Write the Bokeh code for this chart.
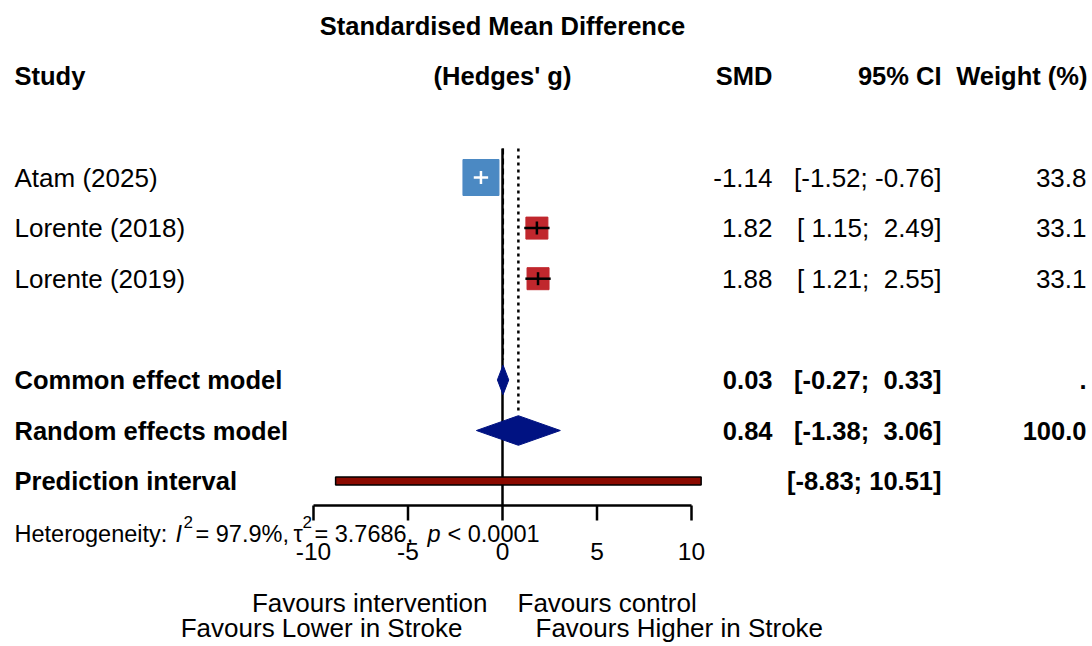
from bokeh.plotting import figure
from bokeh.models import Range1d, ColumnDataSource
from bokeh.core.properties import value
from bokeh.embed import file_html
from bokeh.resources import INLINE

# ---------------- data ----------------
studies = ["Atam (2025)", "Lorente (2018)", "Lorente (2019)"]
smd = [-1.14, 1.82, 1.88]
ci_lower = [-1.52, 1.15, 1.21]
ci_upper = [-0.76, 2.49, 2.55]
weights = [33.8, 33.1, 33.1]

summary_labels = ["Common effect model", "Random effects model"]
summary_smd = [0.03, 0.84]
summary_lower = [-0.27, -1.38]
summary_upper = [0.33, 3.06]
summary_weight = [".", "100.0"]

pi_label = "Prediction interval"
pi_lower = -8.83
pi_upper = 10.51

ticks = [-10, -5, 0, 5, 10]
tick_labels = ["-10", "-5", "0", "5", "10"]

i2_text = "97.9%"
tau2_text = "3.7686"
p_text = "< 0.0001"

# ---------------- layout helpers ----------------
W, H = 1090, 644
OX, OY = 0, 0             # page offset of the canvas
X0, XS = 502.0, 18.9      # screen x of SMD 0, px per SMD unit
Y0, YS = 177.0, 50.6      # screen y of first study row, px per row


def sx(px):
    return (px - X0) / XS


def sy(py):
    return (py - Y0) / YS


def nb(s):
    return s.replace(" ", "\u00a0")


FONT = value("Liberation Sans")
FS = "26px"
FSB = "25.5px"

p = figure(width=W, height=H, output_backend="svg", toolbar_location=None,
           x_range=Range1d(sx(OX), sx(OX + W)), y_range=Range1d(sy(OY + H), sy(OY)),
           min_border=0, x_axis_location=None, y_axis_location=None)
p.grid.visible = False
p.outline_line_color = None
p.background_fill_color = "white"
p.border_fill_color = "white"

study_rows = [0, 1, 2]
summary_rows = [4, 5]
pi_row = 6

# ---------------- reference lines ----------------
line_top = sy(148)
p.segment(x0=[0], y0=[line_top], x1=[0], y1=[sy(505)], line_color="black", line_width=2.5)
p.segment(x0=[summary_smd[0]], y0=[line_top], x1=[summary_smd[0]], y1=[3.6],
          line_color="black", line_width=2, line_dash="6 4")
p.segment(x0=[summary_smd[1]], y0=[line_top], x1=[summary_smd[1]], y1=[4.63],
          line_color="black", line_width=2.5, line_dash="3 4")

# ---------------- studies ----------------
sq_colors = ["#4B89C3", "#C0272D", "#C0272D"]
sq_sizes = [36, 22, 22]
ci_colors = ["white", "black", "black"]
tick_h = 6.5 / YS
src = ColumnDataSource(dict(x=smd, y=study_rows, lo=ci_lower, hi=ci_upper,
                            fc=sq_colors, sz=sq_sizes, cc=ci_colors,
                            ylo=[r - tick_h for r in study_rows],
                            yhi=[r + tick_h for r in study_rows]))
p.scatter(x="x", y="y", size="sz", marker="square", fill_color="fc", line_color="fc", source=src)
p.segment(x0="lo", y0="y", x1="hi", y1="y", line_color="cc", line_width=2.5, source=src)
p.segment(x0="x", y0="ylo", x1="x", y1="yhi", line_color="cc", line_width=2.5, source=src)

# ---------------- summary diamonds ----------------
dh = 14.8 / YS
dx, dy = [], []
for est, lo, hi, r in zip(summary_smd, summary_lower, summary_upper, summary_rows):
    dx.append([lo, est, hi, est])
    dy.append([r, r - dh, r, r + dh])
p.patches(xs=dx, ys=dy, fill_color="#001282", line_color="#001282", line_width=1)

# ---------------- prediction interval ----------------
ph = 4.0 / YS
p.quad(left=[pi_lower], right=[pi_upper], top=[pi_row - ph], bottom=[pi_row + ph],
       fill_color="#8B0A00", line_color="black", line_width=1.5)

# ---------------- x axis ----------------
ax_y = sy(505)
p.segment(x0=[ticks[0]], y0=[ax_y], x1=[ticks[-1]], y1=[ax_y], line_color="black", line_width=2.5)
p.segment(x0=ticks, y0=[ax_y] * len(ticks), x1=ticks, y1=[sy(520)] * len(ticks),
          line_color="black", line_width=2.5)
p.text(x=ticks, y=[sy(551)] * len(ticks), text=tick_labels, text_font=FONT,
       text_font_size="24.5px", text_align="center", text_baseline="middle", text_color="black")


# ---------------- text helper ----------------
def txt(x, y, t, align="left", bold=False, size=None, italic=False):
    style = "bold" if bold else ("italic" if italic else "normal")
    if size is None:
        size = FSB if bold else FS
    p.text(x=x, y=y, text=t, text_font=FONT, text_font_size=size, text_font_style=style,
           text_align=align, text_baseline="middle", text_color="black")


# ---------------- headers ----------------
txt([0.0], [-3], ["Standardised Mean Difference"], align="center", bold=True)
txt([sx(14)], [-2], ["Study"], bold=True)
txt([0.0], [-2], ["(Hedges' g)"], align="center", bold=True)
txt([sx(772)], [-2], ["SMD"], align="right", bold=True)
txt([sx(941)], [-2], ["95% CI"], align="right", bold=True)
txt([sx(1087)], [-2], ["Weight (%)"], align="right", bold=True)

# ---------------- study rows text ----------------
txt([sx(14)] * 3, study_rows, studies)
txt([sx(772)] * 3, study_rows, [f"{v:.2f}" for v in smd], align="right")
txt([sx(941)] * 3, study_rows,
    [nb(f"[{lo:5.2f}; {hi:5.2f}]") for lo, hi in zip(ci_lower, ci_upper)], align="right")
txt([sx(1086)] * 3, study_rows, [f"{w:.1f}" for w in weights], align="right")

# ---------------- summary rows text ----------------
txt([sx(14)] * 2, summary_rows, summary_labels, bold=True)
txt([sx(772)] * 2, summary_rows, [f"{v:.2f}" for v in summary_smd], align="right", bold=True)
txt([sx(941)] * 2, summary_rows,
    [nb(f"[{lo:5.2f}; {hi:5.2f}]") for lo, hi in zip(summary_lower, summary_upper)],
    align="right", bold=True)
txt([sx(1086)] * 2, summary_rows, summary_weight, align="right", bold=True)

txt([sx(14)], [pi_row], [pi_label], bold=True)
txt([sx(941)], [pi_row], [nb(f"[{pi_lower:5.2f}; {pi_upper:5.2f}]")], align="right", bold=True)

# ---------------- heterogeneity ----------------
hy = sy(533)
hs_y = sy(521)
HS = "23.5px"
SUP = "17px"
txt([sx(14)], [hy], ["Heterogeneity:"], size=HS)
txt([sx(175)], [hy], ["I"], size=HS, italic=True)
txt([sx(183)], [hs_y], ["2"], size=SUP)
txt([sx(195)], [hy], [nb(f"= {i2_text},")], size=HS)
txt([sx(293)], [hy], ["\u03c4"], size=HS)
txt([sx(302)], [hs_y], ["2"], size=SUP)
txt([sx(314)], [hy], [nb(f"= {tau2_text},")], size=HS)
txt([sx(427)], [hy], ["p"], size=HS, italic=True)
txt([sx(447)], [hy], [nb(p_text)], size=HS)

# ---------------- favours labels ----------------
txt([sx(487)], [sy(602)], ["Favours intervention"], align="right")
txt([sx(517)], [sy(602)], ["Favours control"])
txt([sx(462)], [sy(627)], ["Favours Lower in Stroke"], align="right")
txt([sx(535)], [sy(627)], ["Favours Higher in Stroke"])

open("out.html", "w").write(file_html(p, INLINE))
